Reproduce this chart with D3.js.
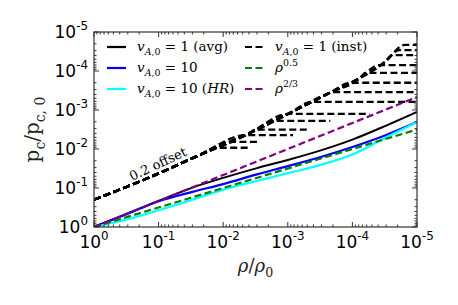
<!DOCTYPE html>
<html><head><meta charset="utf-8">
<script src="https://cdn.jsdelivr.net/npm/d3@7"></script>
<style>body{margin:0;background:#fff} svg{display:block} text{white-space:pre}</style>
</head><body><svg id="c" width="458" height="305"></svg>
<script>
// ---- data ----
const rhoGrid = [1, 3e-1, 1e-1, 3e-2, 1e-2, 3e-3, 1e-3, 3e-4, 1e-4, 3e-5, 1e-5];
const pcAvgV1 = [1, 0.447, 0.214, 0.0977, 0.0550, 0.0309, 0.0191, 0.0107, 0.00575, 0.00251, 0.00112];
const pcV10   = [1, 0.457, 0.219, 0.126, 0.0794, 0.0447, 0.0275, 0.0158, 0.00891, 0.00437, 0.00204];
const pcV10HR = [1, 0.631, 0.372, 0.200, 0.110, 0.0661, 0.0417, 0.0251, 0.0138, 0.00501, 0.00204];
const powRho  = [1, 1e-5];
const pcPow05 = [1, 3.162e-3];
const pcPow23 = [1, 4.64e-4];
// instantaneous curves (0.2 offset): common rising envelope, then plateaus
const envRho = [1, 0.135, 0.0229, 0.00389, 9.3e-4, 2.24e-4, 7.6e-5, 3.16e-5, 1.55e-5];
const envPc  = [0.2, 0.0525, 0.0141, 0.00389, 1.2e-3, 3.63e-4, 1.51e-4, 5.9e-5, 2.14e-5];
const instBreakRho = [1.32e-2, 7.9e-3, 4.6e-3, 3.2e-3, 1.6e-3, 1.0e-3, 4.3e-4, 2.1e-4, 1.07e-4, 6.3e-5, 3.9e-5, 2.4e-5, 1.9e-5, 1.55e-5];
const instLevel    = [9.3e-3, 6.6e-3, 4.4e-3, 3.2e-3, 1.9e-3, 1.26e-3, 6.2e-4, 3.5e-4, 2.0e-4, 1.12e-4, 7.1e-5, 3.9e-5, 2.9e-5, 2.14e-5];
const instEndRho   = [3.9e-3, 3.0e-3, 8.3e-4, 5.0e-4, 2.2e-4, 5.4e-5, 1e-5, 1e-5, 1e-5, 1e-5, 1e-5, 1e-5, 1e-5, 1e-5];
const majorTicks = [1, 1e-1, 1e-2, 1e-3, 1e-4, 1e-5];
const xTickExp = ["0", "-1", "-2", "-3", "-4", "-5"];
const yTickExp = ["0", "-1", "-2", "-3", "-4", "-5"];

// ---- layout ----
const L = 94, R = 417, T = 32, B = 227;
const svg = d3.select("#c");
const x = d3.scaleLog().domain([1, 1e-5]).range([L, R]);
const y = d3.scaleLog().domain([1, 1e-5]).range([B, T]);
const SERIF = "'DejaVu Serif', serif";
const SANS = "'DejaVu Sans', sans-serif";

svg.append("clipPath").attr("id", "clip").append("rect")
  .attr("x", L).attr("y", T).attr("width", R - L).attr("height", B - T);
const plot = svg.append("g").attr("clip-path", "url(#clip)");

const line = d3.line().x(d => x(d[0])).y(d => y(d[1])).curve(d3.curveMonotoneX);
const zip = (a, b) => a.map((v, i) => [v, b[i]]);

function drawLine(pts, color, w, dash) {
  plot.append("path").attr("d", line(pts)).attr("fill", "none")
    .attr("stroke", color).attr("stroke-width", w)
    .attr("stroke-dasharray", dash || null);
}

drawLine(zip(rhoGrid, pcAvgV1), "#000", 2);
drawLine(zip(rhoGrid, pcV10), "#0000ff", 2.2);
drawLine(zip(rhoGrid, pcV10HR), "#00ffff", 2.2);
instBreakRho.forEach((br, i) => {
  const pts = zip(envRho, envPc).filter(p => p[0] > br);
  pts.push([br, instLevel[i]]);
  pts.push([instEndRho[i], instLevel[i]]);
  drawLine(pts, "#000", 2.3, "7,3.5");
});
drawLine(zip(powRho, pcPow05), "#008000", 2.2, "7,3.5");
drawLine(zip(powRho, pcPow23), "#800080", 2.2, "7,3.5");

// ---- frame & ticks ----
const axc = "#333";
svg.append("rect").attr("x", L).attr("y", T).attr("width", R - L).attr("height", B - T)
  .attr("fill", "none").attr("stroke", axc).attr("stroke-width", 1.2);
const allX = x.ticks(), allY = y.ticks();
const isMajor = v => majorTicks.some(m => Math.abs(m - v) / m < 1e-6);
const tg = svg.append("g").attr("stroke", axc).attr("stroke-width", 1);
allX.forEach(v => {
  const len = isMajor(v) ? 5 : 2.5, px = x(v);
  tg.append("line").attr("x1", px).attr("x2", px).attr("y1", B).attr("y2", B - len);
  tg.append("line").attr("x1", px).attr("x2", px).attr("y1", T).attr("y2", T + len);
});
allY.forEach(v => {
  const len = isMajor(v) ? 5 : 2.5, py = y(v);
  tg.append("line").attr("x1", L).attr("x2", L + len).attr("y1", py).attr("y2", py);
  tg.append("line").attr("x1", R).attr("x2", R - len).attr("y1", py).attr("y2", py);
});

function rich(t, parts, base) {
  let cur = 0;
  parts.forEach(([txt, kind]) => {
    let off = 0, fs = base;
    if (kind.startsWith("sub")) { off = base * 0.28; fs = base * 0.7; }
    if (kind.startsWith("sup")) { off = -base * 0.45; fs = base * 0.7; }
    t.append("tspan").attr("dy", off - cur).attr("font-size", fs)
      .attr("font-style", kind.includes("i") ? "italic" : "normal").text(txt);
    cur = off;
  });
  return t;
}

majorTicks.forEach((v, i) => {
  const t = svg.append("text").attr("x", x(v)).attr("y", B + 21)
    .attr("text-anchor", "middle").attr("font-family", SANS).attr("fill", "#000");
  rich(t, [["10", "r"], [xTickExp[i], "sup"]], 17);
});
majorTicks.forEach((v, i) => {
  const t = svg.append("text").attr("x", 88).attr("y", y(v) + 6)
    .attr("text-anchor", "end").attr("font-family", SANS).attr("fill", "#000");
  rich(t, [["10", "r"], [yTickExp[i], "sup"]], 17);
});

// axis labels
const xl = svg.append("text").attr("x", (L + R) / 2).attr("y", 272)
  .attr("text-anchor", "middle").attr("font-family", SERIF).attr("fill", "#222");
rich(xl, [["ρ", "i"], ["/", "r"], ["ρ", "i"], ["0", "sub"]], 18);
const yl = svg.append("text").attr("transform", `translate(39,${(T + B) / 2}) rotate(-90)`)
  .attr("text-anchor", "middle").attr("font-family", SERIF).attr("fill", "#222");
rich(yl, [["p", "r"], ["c", "sub"], ["/p", "r"], ["c, 0", "sub"]], 20);

// annotation
svg.append("text").attr("transform", "translate(132,181) rotate(-25)")
  .attr("font-family", SERIF).attr("font-size", 13).attr("fill", "#000").text("0.2 offset");

// ---- legend ----
const legend = [
  { col: 0, row: 0, color: "#000", dash: null, parts: [["v", "i"], ["A", "subi"], [",0", "sub"], [" = 1 (avg)", "r"]] },
  { col: 0, row: 1, color: "#0000ff", dash: null, parts: [["v", "i"], ["A", "subi"], [",0", "sub"], [" = 10", "r"]] },
  { col: 0, row: 2, color: "#00ffff", dash: null, parts: [["v", "i"], ["A", "subi"], [",0", "sub"], [" = 10 (", "r"], ["HR", "i"], [")", "r"]] },
  { col: 1, row: 0, color: "#000", dash: "7,3.5", parts: [["v", "i"], ["A", "subi"], [",0", "sub"], [" = 1 (inst)", "r"]] },
  { col: 1, row: 1, color: "#008000", dash: "7,3.5", parts: [["ρ", "i"], ["0.5", "sup"]] },
  { col: 1, row: 2, color: "#800080", dash: "7,3.5", parts: [["ρ", "i"], ["2/3", "sup"]] },
];
const colX = [107, 245], rowY = [47, 68, 89];
legend.forEach(d => {
  const lx = colX[d.col], ly = rowY[d.row];
  svg.append("line").attr("x1", lx).attr("x2", lx + 19).attr("y1", ly).attr("y2", ly)
    .attr("stroke", d.color).attr("stroke-width", 2.2).attr("stroke-dasharray", d.dash);
  const t = svg.append("text").attr("x", lx + 30).attr("y", ly + 4)
    .attr("font-family", SERIF).attr("fill", "#000");
  rich(t, d.parts, 13.5);
});
</script></body></html>
